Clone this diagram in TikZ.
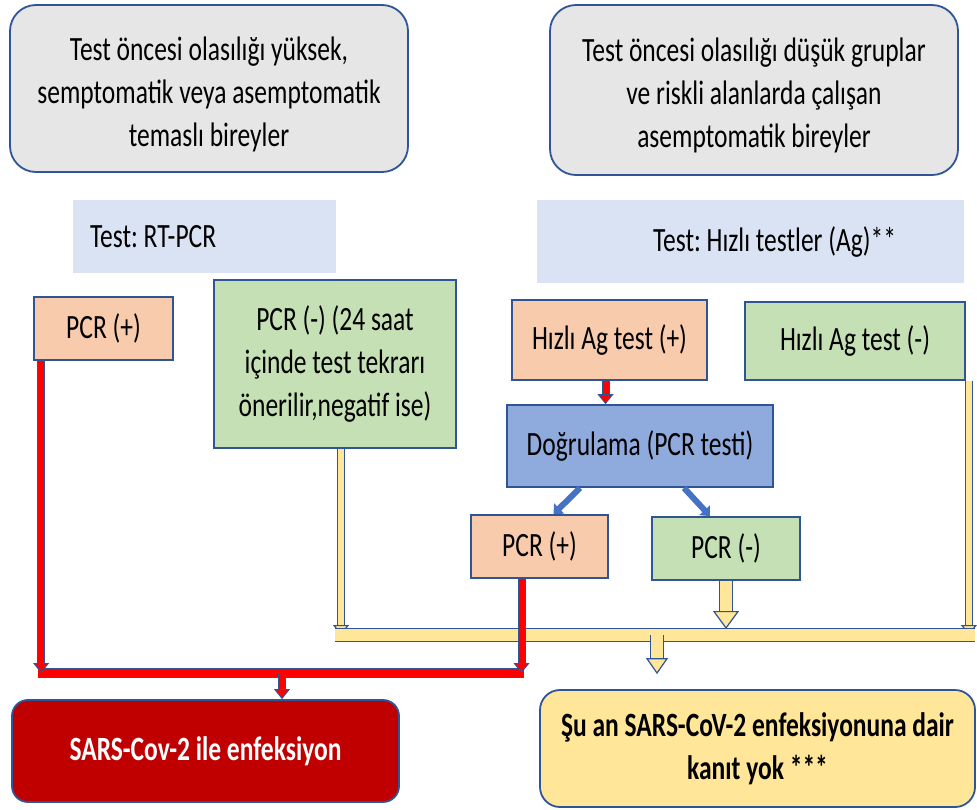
\documentclass[tikz,border=0pt]{standalone}
\usepackage{fontspec}
\setmainfont{Carlito}[FakeStretch=0.75]
\usetikzlibrary{arrows.meta}
\definecolor{edgeblue}{HTML}{2F5597}
\definecolor{grpgray}{HTML}{E7E6E6}
\definecolor{testblue}{HTML}{DAE3F3}
\definecolor{posorange}{HTML}{F8CBAD}
\definecolor{neggreen}{HTML}{C5E0B4}
\definecolor{checkblue}{HTML}{8FAADC}
\definecolor{arrowblue}{HTML}{4472C4}
\definecolor{infred}{HTML}{C00000}
\definecolor{noyellow}{HTML}{FFE699}
\frenchspacing
\begin{document}
\begin{tikzpicture}[
x=0.5pt, y=-0.5pt,
every node/.style={
draw=edgeblue,
line width=0.9pt,
align=center,
inner sep=0pt,
font=\fontsize{17}{21.5}\selectfont
},
grp/.style={fill=grpgray, rounded corners=13pt},
testbar/.style={draw=none, fill=testblue},
posbox/.style={fill=posorange},
negbox/.style={fill=neggreen},
redpipe/.style={draw=edgeblue, line width=0.5pt, double=red, double distance=3pt},
redbar/.style={draw=edgeblue, line width=0.5pt, double=red, double distance=4.2pt},
ypipe/.style={draw=edgeblue, line width=0.6pt, double=noyellow, double distance=3pt},
ybar/.style={draw=edgeblue, line width=0.6pt, double=noyellow, double distance=6pt},
redtip/.style={-{Triangle[length=5pt,width=8pt,fill=red,line width=0.5pt]}},
ytip/.style={-{Triangle[length=5pt,width=8pt,fill=noyellow,line width=0.6pt]}},
bigytip/.style={-{Triangle[length=9pt,width=13pt,fill=noyellow,line width=0.6pt]}},
bluearrow/.style={draw=arrowblue, line width=3pt, -{Triangle[length=4pt,width=7pt]}}
]

\fill[white] (0,0) rectangle (977,809);
\useasboundingbox (0,0) rectangle (977,809);

\node[grp, minimum width=199pt, minimum height=83.5pt] (grpA)
at (209,88.5)
{\rule{0pt}{18pt}Test öncesi olasılığı yüksek,\\semptomatik veya asemptomatik\\temaslı bireyler};

\node[grp, minimum width=204pt, minimum height=85pt] (grpB)
at (754,90)
{\rule{0pt}{17pt}Test öncesi olasılığı düşük gruplar\\ve riskli alanlarda çalışan\\asemptomatik bireyler};

\node[testbar, minimum width=131.5pt, minimum height=36.5pt] (testA)
at (204.5,236.5)
{\makebox[114.5pt][l]{Test: RT-PCR}};

\node[testbar, minimum width=213.5pt, minimum height=41.5pt] (testB)
at (750.5,241.5)
{\hspace*{24pt}Test: Hızlı testler (Ag)**};

\node[posbox, minimum width=69.5pt, minimum height=31.5pt] (posA)
at (103.5,328.5)
{PCR (+)};

\node[negbox, minimum width=121pt, minimum height=84pt] (negA)
at (335,364)
{PCR (-) (24 saat\\içinde test tekrarı\\önerilir,negatif ise)};

\node[posbox, minimum width=97.5pt, minimum height=40pt] (agPos)
at (609.5,340)
{Hızlı Ag test (+)};

\node[negbox, minimum width=110pt, minimum height=39pt] (agNeg)
at (855,341)
{Hızlı Ag test (-)};

\node[fill=checkblue, minimum width=133pt, minimum height=41pt] (confirm)
at (640,446)
{Doğrulama (PCR testi)};

\node[posbox, minimum width=68.5pt, minimum height=31.5pt] (posB)
at (539.5,546.5)
{PCR (+)};

\node[negbox, minimum width=74pt, minimum height=31.5pt] (negB)
at (726,548.5)
{PCR (-)};

\node[fill=infred, rounded corners=8pt, text=white, font=\fontsize{17}{21.5}\selectfont\bfseries,
minimum width=193.5pt, minimum height=51pt] (infected)
at (205.5,751)
{SARS-Cov-2 ile enfeksiyon};

\node[fill=noyellow, rounded corners=10pt, font=\fontsize{17}{21.5}\selectfont\bfseries,
minimum width=217.5pt, minimum height=58.5pt] (noInf)
at (757.5,748.5)
{Şu an SARS-CoV-2 enfeksiyonuna dair\\kanıt yok ***};

\coordinate (rbarL) at (38,673);
\coordinate (rbarR) at (524,673);
\coordinate (rbarM) at (282,673);
\coordinate (ybarL) at (335,635);
\coordinate (ybarR) at (975,635);
\coordinate (ybarM) at (657,635);

\draw[ypipe, ytip] ([xshift=3pt]negA.south) -- ([xshift=3pt]negA.south |- ybarL);
\draw[ypipe, ytip] ([xshift=1.5pt]agNeg.south east) -- ([xshift=1.5pt]agNeg.south east |- ybarR);
\draw[ybar] (ybarL) -- (ybarR);
\draw[ybar, bigytip] (negB.south) -- ([yshift=3pt]negB.south |- ybarL);
\draw[ybar, -{Triangle[length=8pt,width=11pt,fill=noyellow,line width=0.6pt]}, shorten >=7.5pt] (ybarM) -- (ybarM |- noInf.north);

\draw[redbar] (rbarL) -- (rbarR);
\draw[redpipe, redtip] ([xshift=4pt]posA.south west) -- ([xshift=4pt]posA.south west |- rbarL);
\draw[redpipe, redtip] ([xshift=-9pt]posB.south) -- ([xshift=-9pt]posB.south |- rbarL);
\draw[redpipe, redtip] (rbarM) -- (rbarM |- infected.north);
\draw[redpipe, redtip] ([xshift=-2pt]agPos.south) -- ([xshift=-2pt]agPos.south |- confirm.north);

\draw[bluearrow] ([xshift=-30pt]confirm.south) -- ([xshift=7pt]posB.north);
\draw[bluearrow] ([xshift=22pt]confirm.south) -- ([xshift=-8pt]negB.north);

\end{tikzpicture}
\end{document}
